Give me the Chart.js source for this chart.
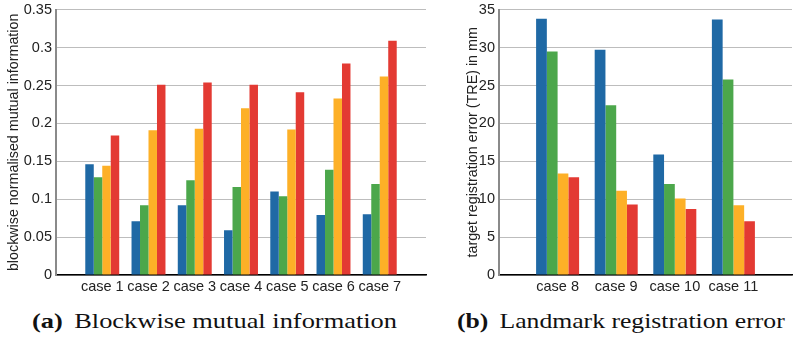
<!DOCTYPE html>
<html>
<head>
<meta charset="utf-8">
<script src="https://cdn.jsdelivr.net/npm/chart.js@4/dist/chart.umd.min.js"></script>
<style>
  body { margin: 0; background: #fff; width: 801px; height: 338px; overflow: hidden; position: relative; }
  #wa { position: absolute; left: 0; top: -3px; width: 440px; height: 303px; }
  #wb { position: absolute; left: 440px; top: -3px; width: 361px; height: 303px; }
  .cap { position: absolute; top: 308px; font-family: "Liberation Serif", "DejaVu Serif", serif; font-size: 22px; line-height: 26px; color: #111; white-space: nowrap; transform-origin: 0 50%; }
  .cap b { font-weight: bold; margin-right: 4px; }
</style>
</head>
<body>
<div id="wa"><canvas id="chartA"></canvas></div>
<div id="wb"><canvas id="chartB"></canvas></div>
<div class="cap" id="capA" style="left:32px"><b>(a)</b> Blockwise mutual information</div>
<div class="cap" id="capB" style="left:457px"><b>(b)</b> Landmark registration error</div>
<script>
// left: blockwise normalised mutual information
let casesA = ["case 1","case 2","case 3","case 4","case 5","case 6","case 7"]
let miBlue   = [0.146, 0.071, 0.092, 0.059, 0.110, 0.079, 0.080]
let miGreen  = [0.129, 0.092, 0.125, 0.116, 0.104, 0.139, 0.120]
let miOrange = [0.144, 0.191, 0.193, 0.220, 0.192, 0.233, 0.262]
let miRed    = [0.184, 0.251, 0.254, 0.251, 0.241, 0.279, 0.309]

// right: target registration error
let casesB = ["case 8","case 9","case 10","case 11"]
let treBlue   = [33.8, 29.7, 15.9, 33.7]
let treGreen  = [29.5, 22.4, 12.0, 25.8]
let treOrange = [13.4, 11.1, 10.1, 9.2]
let treRed    = [12.9, 9.3, 8.7, 7.1]

const colors = ["#1f69a5", "#4ca74b", "#fdb027", "#e33a33"]
const tickFont = { family: "Liberation Sans, Arial, sans-serif", size: 14.5 }

// pad with empty slots so the axis runs from 0 to n+1 like matlab
function pad(arr, v) { return [v].concat(arr, [v]) }

function makeChart(id, labels, series, yMax, yStep, yTitle, leftPad, yWidth, rightPad, fmt) {
  return new Chart(document.getElementById(id), {
    type: 'bar',
    data: {
      labels: pad(labels, ''),
      datasets: series.map((s, i) => ({
        data: pad(s, null),
        backgroundColor: colors[i],
        borderWidth: 0,
        categoryPercentage: 0.734,
        barPercentage: 1
      }))
    },
    options: {
      responsive: true,
      maintainAspectRatio: false,
      animation: false,
      layout: { padding: { top: 0, right: rightPad, left: leftPad, bottom: 0 } },
      plugins: { legend: { display: false }, tooltip: { enabled: false } },
      scales: {
        x: {
          offset: false,
          grid: { display: false, drawTicks: false },
          border: { color: '#000', width: 1.5 },
          ticks: { color: '#222', font: tickFont, padding: 3, maxRotation: 0, autoSkip: false },
          afterFit: s => { s.height = 25 }
        },
        y: {
          min: 0, max: yMax,
          grid: { color: '#bdbdbd', borderDash: [1, 3], drawTicks: false },
          border: { color: '#8a8a8a', width: 2 },
          ticks: { stepSize: yStep, color: '#222', font: tickFont, padding: 4, callback: fmt },
          title: { display: true, text: yTitle, color: '#222', font: { family: "Liberation Sans, Arial, sans-serif", size: 14.3 }, padding: 0 },
          afterFit: s => { s.width = yWidth }
        }
      }
    }
  })
}

makeChart('chartA', casesA, [miBlue, miGreen, miOrange, miRed], 0.35, 0.05,
  'blockwise normalised mutual information', 5, 51, 14, v => String(+v.toFixed(2)))
makeChart('chartB', casesB, [treBlue, treGreen, treOrange, treRed], 35, 5,
  'target registration error (TRE) in mm', 24, 35, 9, v => String(v))

// stretch captions to the width of the latex captions
function fitCaption(id, w) {
  let el = document.getElementById(id)
  el.style.transform = 'scaleX(' + (w / el.offsetWidth) + ')'
}
fitCaption('capA', 365)
fitCaption('capB', 328)
</script>
</body>
</html>
